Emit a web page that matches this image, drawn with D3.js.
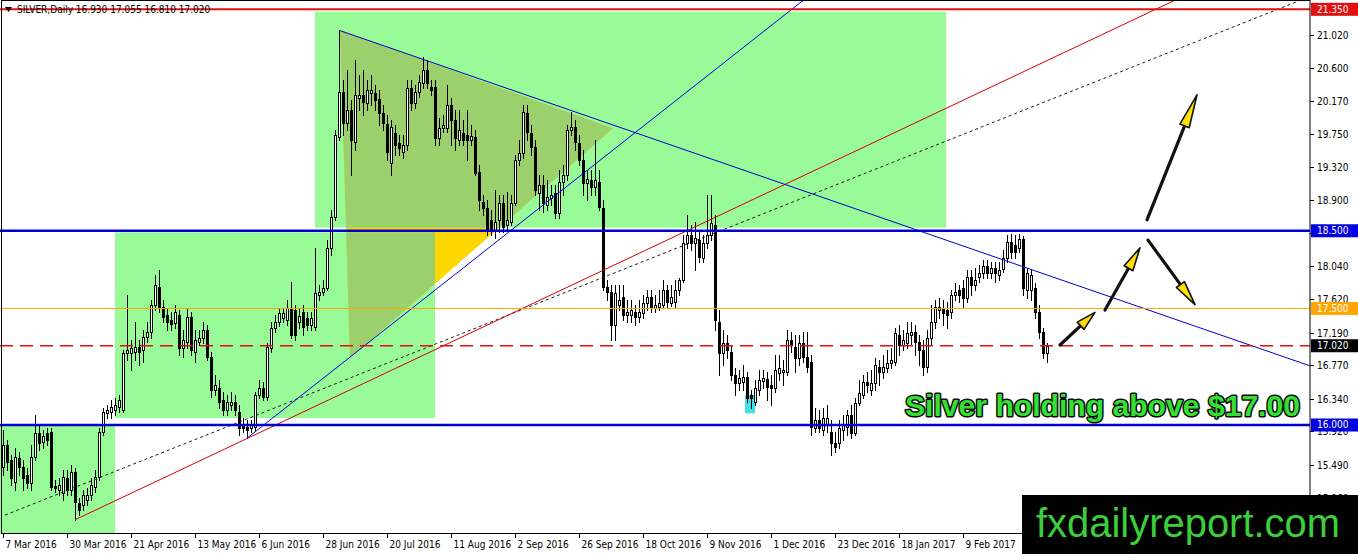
<!DOCTYPE html>
<html><head><meta charset="utf-8">
<script src="https://cdn.jsdelivr.net/npm/d3@7/dist/d3.min.js"></script>
<style>html,body{margin:0;padding:0;background:#fff;overflow:hidden}</style>
</head><body>
<svg id="chart" width="1358" height="554"></svg>
<script>
// ---------------- DATA ----------------
const symbolTitle = "SILVER,Daily";
const lastOHLC = ["16.930", "17.055", "16.810", "17.020"];

const opens = [15.46,15.74,15.55,15.27,15.58,15.46,15.36,15.25,15.59,15.90,
15.78,15.90,15.91,15.22,15.16,15.12,15.32,15.16,15.40,15.00,
14.97,15.04,15.10,15.20,15.33,15.91,16.15,16.17,16.19,16.23,
16.19,16.93,16.93,16.94,17.00,16.97,17.13,17.20,17.55,17.78,
17.52,17.42,17.35,17.31,17.42,16.99,17.07,17.39,16.94,17.07,
17.12,17.22,16.88,16.45,16.48,16.32,16.19,16.26,16.30,16.17,
16.00,15.97,15.96,15.97,16.39,16.48,16.36,16.99,17.25,17.33,
17.38,17.35,17.51,17.48,17.33,17.45,17.38,17.29,17.26,17.67,
17.71,17.76,18.28,18.68,19.71,20.29,19.89,20.05,19.64,20.21,
20.25,20.14,20.27,20.27,20.20,20.02,19.87,19.37,19.76,19.63,
19.51,19.60,20.34,20.14,20.29,20.40,20.57,20.35,20.35,19.69,
19.82,19.82,20.12,19.93,19.67,19.76,19.73,19.67,19.71,19.26,
18.87,18.79,18.64,18.51,18.64,18.86,18.57,18.61,18.86,19.41,
19.50,20.02,19.76,19.58,18.99,19.09,18.83,18.92,18.99,18.73,
19.13,19.22,19.80,19.84,19.63,19.41,19.12,19.15,19.06,19.13,
18.79,17.78,17.71,17.29,17.55,17.65,17.42,17.42,17.45,17.39,
17.44,17.57,17.65,17.51,17.52,17.55,17.74,17.57,17.58,17.74,
17.87,18.34,18.45,18.34,18.38,18.15,18.34,18.45,18.57,17.33,
16.93,17.06,16.94,16.64,16.54,16.55,16.62,16.39,16.30,16.45,
16.57,16.59,16.52,16.48,16.67,16.68,16.68,17.09,17.00,16.86,
17.06,16.88,16.81,15.96,16.06,15.94,16.00,15.91,15.77,15.77,
15.94,15.97,16.13,15.90,16.28,16.39,16.55,16.45,16.54,16.75,
16.68,16.73,16.80,16.81,17.16,17.03,17.06,17.16,17.20,17.07,
16.97,16.75,17.12,17.33,17.48,17.51,17.48,17.45,17.67,17.74,
17.76,17.63,17.91,17.80,17.91,17.96,18.05,17.96,18.02,17.93,
18.01,18.15,18.36,18.32,18.28,18.39,17.74,17.74,17.76,17.45,
17.20,16.93];

const highs = [15.94,15.81,15.61,15.70,15.65,15.55,15.45,15.74,16.13,16.00,
15.94,15.96,15.96,15.29,15.32,15.42,15.42,15.49,15.45,15.06,
15.16,15.19,15.32,15.42,15.96,16.22,16.26,16.32,16.35,16.39,
16.97,17.67,17.09,17.33,17.09,17.22,17.33,17.61,17.93,18.00,
17.61,17.51,17.45,17.55,17.48,17.22,17.51,17.45,17.22,17.22,
17.33,17.29,16.94,16.64,16.58,16.43,16.39,16.43,16.39,16.26,
16.09,16.06,16.06,16.43,16.58,16.55,17.06,17.33,17.42,17.51,
17.51,17.61,17.84,17.55,17.51,17.55,17.45,17.45,18.28,17.80,
17.87,18.38,18.77,19.80,21.08,20.44,20.57,20.18,20.70,20.50,
20.57,20.44,20.50,20.38,20.31,20.12,19.99,19.93,19.86,19.73,
19.73,20.44,20.44,20.38,20.50,20.74,20.70,20.44,20.44,19.95,
19.99,20.38,20.21,20.05,20.05,19.93,20.05,19.86,19.80,19.35,
18.96,18.90,18.77,19.02,18.96,18.96,19.00,18.96,19.48,19.67,
20.12,20.12,19.86,19.67,19.22,19.22,19.15,19.09,19.09,19.28,
19.35,19.86,20.03,19.93,19.73,19.54,19.28,19.28,19.67,19.28,
18.90,17.87,17.80,17.80,17.80,17.80,17.61,17.61,17.55,17.61,
17.67,17.74,17.74,17.67,17.74,17.87,17.80,17.80,17.87,17.89,
18.45,18.70,18.57,18.61,18.51,18.45,18.96,18.96,18.70,17.48,
17.22,17.16,17.03,16.73,16.71,16.77,16.68,16.45,16.58,16.71,
16.71,16.68,16.64,16.90,16.90,16.84,17.22,17.20,17.16,17.16,
17.20,17.20,16.90,16.22,16.19,16.22,16.26,16.06,15.91,16.06,
16.13,16.19,16.26,16.35,16.58,16.64,16.68,16.71,16.86,16.84,
16.90,16.97,16.99,17.25,17.29,17.22,17.33,17.33,17.29,17.16,
17.09,17.22,17.55,17.61,17.63,17.61,17.58,17.74,17.83,17.80,
17.87,18.00,18.00,18.02,18.06,18.12,18.12,18.10,18.10,18.10,
18.25,18.45,18.46,18.45,18.46,18.43,18.02,18.00,17.83,17.55,
17.25,17.055];

const lows = [15.36,15.42,15.23,15.16,15.36,15.16,15.19,15.16,15.55,15.68,
15.70,15.74,15.16,15.14,15.10,15.04,15.10,15.10,14.78,14.84,
14.91,14.97,15.04,15.14,15.29,15.87,16.09,16.09,16.13,16.17,
16.17,16.84,16.71,16.84,16.77,16.81,17.07,17.12,17.48,17.45,
17.33,17.22,17.22,17.25,16.90,16.88,16.99,16.90,16.81,17.03,
17.06,16.84,16.36,16.39,16.22,16.13,16.13,16.19,16.13,15.87,
15.91,15.83,15.91,15.94,16.35,16.32,16.32,16.94,17.20,17.27,
17.33,17.29,17.12,17.09,17.25,17.16,17.22,17.22,17.22,17.61,
17.67,17.74,18.19,18.64,19.67,19.73,19.80,19.22,19.54,20.05,
19.99,20.05,20.12,20.05,19.86,19.80,19.41,19.22,19.48,19.48,
19.44,19.54,20.05,20.08,20.22,20.34,20.34,20.25,19.60,19.60,
19.77,19.77,19.60,19.54,19.60,19.60,19.41,19.60,19.22,18.77,
18.70,18.45,18.45,18.41,18.48,18.48,18.51,18.57,18.83,19.35,
19.44,19.67,19.48,18.96,18.77,18.74,18.77,18.83,18.66,18.66,
18.96,19.15,19.73,19.54,19.35,18.96,18.90,18.96,18.96,18.77,
17.74,17.61,17.09,17.09,17.48,17.35,17.33,17.33,17.29,17.33,
17.38,17.48,17.45,17.45,17.48,17.51,17.51,17.53,17.52,17.67,
17.84,18.28,18.25,18.00,18.10,18.10,18.28,18.38,17.22,16.64,
16.77,16.86,16.58,16.39,16.45,16.45,16.30,16.22,16.26,16.39,
16.48,16.32,16.26,16.43,16.58,16.52,16.64,16.94,16.68,16.77,
16.81,16.68,15.87,15.91,15.91,15.87,15.91,15.61,15.65,15.70,
15.81,15.87,15.83,15.87,16.26,16.35,16.43,16.39,16.45,16.52,
16.61,16.68,16.73,16.77,16.90,16.97,16.99,17.03,16.90,16.77,
16.64,16.68,17.03,17.25,17.38,17.29,17.25,17.38,17.61,17.58,
17.52,17.58,17.67,17.74,17.84,17.89,17.89,17.89,17.84,17.87,
17.97,18.10,18.15,18.15,18.23,17.67,17.63,17.61,17.38,17.12,
16.86,16.81];

const closes = [15.74,15.52,15.32,15.59,15.46,15.32,15.25,15.59,15.90,15.77,
15.86,15.81,15.20,15.19,15.23,15.33,15.16,15.40,15.01,14.91,
15.10,15.10,15.23,15.33,15.91,16.17,16.19,16.23,16.26,16.32,
16.93,16.97,16.99,17.00,16.94,17.13,17.20,17.55,17.80,17.52,
17.39,17.33,17.30,17.45,16.99,17.09,17.39,16.97,17.09,17.12,
17.22,16.88,16.45,16.52,16.30,16.19,16.30,16.30,16.19,15.96,
15.96,15.94,16.00,16.39,16.48,16.36,17.00,17.25,17.33,17.44,
17.44,17.51,17.16,17.16,17.40,17.26,17.29,17.38,17.70,17.71,
17.76,18.28,18.68,19.73,20.29,19.89,20.05,19.67,20.25,20.25,
20.16,20.31,20.31,20.18,20.02,19.89,19.51,19.84,19.60,19.57,
19.60,20.34,20.14,20.29,20.41,20.57,20.40,20.31,19.69,19.82,
19.86,20.12,19.93,19.69,19.80,19.67,19.67,19.72,19.24,18.90,
18.79,18.51,18.51,18.61,18.86,18.55,18.64,18.86,19.41,19.50,
20.03,19.77,19.58,19.02,19.09,18.86,18.94,18.96,18.73,19.13,
19.22,19.80,19.84,19.64,19.41,19.12,19.17,19.06,19.15,18.81,
17.78,17.71,17.29,17.70,17.61,17.42,17.45,17.48,17.39,17.45,
17.57,17.65,17.52,17.55,17.57,17.74,17.58,17.65,17.74,17.87,
18.34,18.45,18.34,18.41,18.16,18.34,18.45,18.60,17.35,16.93,
17.06,16.97,16.64,16.54,16.61,16.62,16.35,16.35,16.48,16.58,
16.61,16.49,16.48,16.71,16.73,16.71,17.09,17.03,16.86,17.06,
16.88,16.75,15.97,16.06,15.96,16.09,16.09,15.77,15.72,15.96,
16.00,16.13,15.90,16.28,16.41,16.55,16.52,16.54,16.77,16.68,
16.75,16.80,16.84,17.18,17.03,17.09,17.18,17.20,17.07,16.97,
16.75,17.12,17.33,17.52,17.52,17.44,17.42,17.67,17.71,17.67,
17.63,17.91,17.80,17.87,17.96,18.05,17.96,18.02,17.96,18.00,
18.15,18.36,18.23,18.23,18.39,17.76,17.96,17.93,17.45,17.20,
16.93,17.02];

const xTickLabels = ["7 Mar 2016","30 Mar 2016","21 Apr 2016","13 May 2016","6 Jun 2016",
"28 Jun 2016","20 Jul 2016","11 Aug 2016","2 Sep 2016","26 Sep 2016","18 Oct 2016",
"9 Nov 2016","1 Dec 2016","23 Dec 2016","18 Jan 2017","9 Feb 2017"];
const barsPerXTick = 16;

const yTickValues = [21.020,20.600,20.170,19.750,19.320,18.900,18.470,18.040,
17.620,17.190,16.770,16.340,15.920,15.490,15.060];

// horizontal levels (price)
const resistanceTop = 21.350;
const levelHigh = 18.500;
const levelMid = 17.500;
const lastPrice = 17.020;
const levelLow = 16.000;

// zones [barFrom, barTo, priceTop, priceBottom]
const zones = [[-0.75, 28, 16.00, 14.50], [28, 108, 18.48, 16.09], [78, 235.75, 21.32, 18.54]];
const triangle = [[84.25, 21.08], [152.5, 19.82], [86.75, 16.86]];
const highlightBox = [185.5, 188, 16.39, 16.15];

// trend lines: [[bar, price],[bar, price]] (rays from first point)
const blueUpLine = [[61, 15.83], [174, 20.41]];
const blueDownLine = [[84, 21.08], [249.25, 18.14]];
const redUpLine = [[18, 14.78], [174.25, 18.58]];
const dottedLine = [[0.5, 14.84], [174, 18.39]];

// scenario arrows [[tailBar, tailPrice],[headBar, headPrice]]
const arrows = [
  [[264.25, 17.03], [273, 17.45]],
  [[275.5, 17.48], [284.25, 18.28]],
  [[286, 18.64], [298.5, 20.25]],
  [[286.25, 18.38], [298, 17.55]]
];

const headline = "Silver holding above $17.00";
const watermark = "fxdailyreport.com";

// ---------------- DRAW ----------------
const W = 1358, H = 554;
const plotR = 1310, plotB = 534;
const svg = d3.select("#chart");
const x = d3.scaleLinear().domain([0, 326.75]).range([3, plotR]);
const y = d3.scaleLinear().domain([14.597, 21.470]).range([plotB, 0]);

const defs = svg.append("defs");
defs.append("clipPath").attr("id", "plotClip").append("rect")
  .attr("x", 0).attr("y", 0).attr("width", plotR).attr("height", plotB);
const zoneClip = defs.append("clipPath").attr("id", "zoneClip");
zones.forEach(z => zoneClip.append("rect")
  .attr("x", x(z[0])).attr("y", y(z[2])).attr("width", x(z[1]) - x(z[0])).attr("height", y(z[3]) - y(z[2])));

svg.append("rect").attr("width", W).attr("height", H).attr("fill", "#fff");
const plot = svg.append("g").attr("clip-path", "url(#plotClip)");

// zones
plot.selectAll("rect.zone").data(zones).join("rect").attr("class", "zone")
  .attr("x", d => x(d[0])).attr("y", d => y(d[2]))
  .attr("width", d => x(d[1]) - x(d[0])).attr("height", d => y(d[3]) - y(d[2]))
  .attr("fill", "#98fb98");

const triPts = triangle.map(p => [x(p[0]), y(p[1])].join(",")).join(" ");
plot.append("polygon").attr("points", triPts).attr("fill", "#ffd700");
plot.append("g").attr("clip-path", "url(#zoneClip)")
  .append("polygon").attr("points", triPts).attr("fill", "#9cd06c");

plot.append("rect").attr("x", x(highlightBox[0])).attr("y", y(highlightBox[2]))
  .attr("width", x(highlightBox[1]) - x(highlightBox[0]))
  .attr("height", y(highlightBox[3]) - y(highlightBox[2])).attr("fill", "#3fe0e8");

// candles
const bars = d3.range(opens.length).map(i => ({i, o: opens[i], h: highs[i], l: lows[i], c: closes[i]}));
const cg = plot.append("g");
cg.selectAll("line.wick").data(bars).join("line").attr("class", "wick")
  .attr("x1", d => Math.round(x(d.i)) + 0.5).attr("x2", d => Math.round(x(d.i)) + 0.5)
  .attr("y1", d => Math.round(y(d.h))).attr("y2", d => Math.round(y(d.l)) + 1)
  .attr("stroke", "#000").attr("stroke-width", 1);
cg.selectAll("rect.body").data(bars).join("rect").attr("class", "body")
  .attr("x", d => Math.round(x(d.i)) - 0.5)
  .attr("y", d => Math.round(y(Math.max(d.o, d.c))) + 0.5)
  .attr("width", 2)
  .attr("height", d => Math.max(0, Math.round(y(Math.min(d.o, d.c))) - Math.round(y(Math.max(d.o, d.c)))))
  .attr("fill", d => d.c >= d.o ? "#fff" : "#000")
  .attr("stroke", "#000").attr("stroke-width", 1);

// trend lines as rays
function ray(seg, farBar) {
  const [p1, p2] = seg;
  const slope = (p2[1] - p1[1]) / (p2[0] - p1[0]);
  return [[x(p1[0]), y(p1[1])], [x(farBar), y(p1[1] + slope * (farBar - p1[0]))]];
}
function drawRay(seg, color, w, dash) {
  const r = ray(seg, 420);
  const ln = plot.append("line").attr("x1", r[0][0]).attr("y1", r[0][1]).attr("x2", r[1][0]).attr("y2", r[1][1])
    .attr("stroke", color).attr("stroke-width", w);
  if (dash) ln.attr("stroke-dasharray", dash);
}
drawRay(dottedLine, "#1a1a1a", 1, "3,3");
drawRay(redUpLine, "#d40000", 1);
drawRay(blueUpLine, "#0000e0", 1);
drawRay(blueDownLine, "#0000c8", 1);

// header text (drawn under the top resistance line)
svg.append("path").attr("d", "M5,7 L12,7 L8.5,12 Z").attr("fill", "#000");
svg.append("text").attr("x", 17).attr("y", 13).attr("font-family", "DejaVu Sans Condensed, DejaVu Sans, sans-serif")
  .attr("font-size", 10).attr("fill", "#000")
  .text(symbolTitle + "  " + lastOHLC.join(" "));

// horizontal levels
function hline(p, color, w, dash) {
  const l = plot.append("line").attr("x1", 0).attr("x2", plotR).attr("y1", y(p)).attr("y2", y(p))
    .attr("stroke", color).attr("stroke-width", w);
  if (dash) l.attr("stroke-dasharray", dash);
}
hline(resistanceTop, "#e01010", 2);
hline(levelHigh, "#0000d0", 2.5);
hline(levelMid, "#ffa500", 1);
hline(lastPrice, "#e01010", 1.3, "13,7");
hline(levelLow, "#0000d0", 2.5);

// frame and axes
svg.append("rect").attr("x", 1.5).attr("y", 0.5).attr("width", plotR - 1.5).attr("height", plotB - 1)
  .attr("fill", "none").attr("stroke", "#000").attr("stroke-width", 1);

const axisFont = "DejaVu Sans Condensed, DejaVu Sans, sans-serif";
const yt = svg.append("g");
yTickValues.forEach(v => {
  const yy = Math.round(y(v)) + 0.5;
  yt.append("line").attr("x1", plotR).attr("x2", plotR + 4).attr("y1", yy).attr("y2", yy).attr("stroke", "#000");
  yt.append("text").attr("x", plotR + 7).attr("y", yy + 3.5).attr("font-family", axisFont)
    .attr("font-size", 10).attr("fill", "#000").text(v.toFixed(3));
});

const xt = svg.append("g");
xTickLabels.forEach((lab, k) => {
  const xx = Math.round(x(k * barsPerXTick)) + 0.5;
  xt.append("line").attr("x1", xx).attr("x2", xx).attr("y1", plotB).attr("y2", plotB + 4).attr("stroke", "#000");
  xt.append("text").attr("x", xx + 2).attr("y", plotB + 14).attr("font-family", axisFont)
    .attr("font-size", 10).attr("fill", "#000").text(lab);
});

// price tags on the axis
function tag(p, bg) {
  const yy = y(p);
  svg.append("rect").attr("x", plotR + 1).attr("y", yy - 6.5).attr("width", W - plotR - 1).attr("height", 13).attr("fill", bg);
  svg.append("text").attr("x", plotR + 7).attr("y", yy + 3.5).attr("font-family", axisFont)
    .attr("font-size", 10).attr("fill", "#fff").text(p.toFixed(3));
}
tag(resistanceTop, "#e01010");
tag(levelHigh, "#0000e0");
tag(levelMid, "#ffa500");
tag(lastPrice, "#000");
tag(levelLow, "#0000e0");

// arrows
const ag = svg.append("g");
arrows.forEach(a => {
  const x1 = x(a[0][0]), y1 = y(a[0][1]), x2 = x(a[1][0]), y2 = y(a[1][1]);
  const dx = x2 - x1, dy = y2 - y1, len = Math.hypot(dx, dy);
  const ux = dx / len, uy = dy / len, px = -uy, py = ux;
  const hl = Math.min(34, 12 + 0.16 * len), hw = 5;
  const bx = x2 - ux * hl, by = y2 - uy * hl;
  ag.append("line").attr("x1", x1).attr("y1", y1).attr("x2", bx + ux * 2).attr("y2", by + uy * 2)
    .attr("stroke", "#111").attr("stroke-width", 3.2).attr("stroke-linecap", "round");
  ag.append("polygon")
    .attr("points", [[x2, y2], [bx + px * hw, by + py * hw], [bx - px * hw, by - py * hw]].map(p => p.join(",")).join(" "))
    .attr("fill", "#ffe000").attr("stroke", "#111").attr("stroke-width", 1.6).attr("stroke-linejoin", "round");
});

// headline
svg.append("text").attr("x", 905).attr("y", 416)
  .attr("font-family", "Liberation Sans, Arial, sans-serif").attr("font-weight", "bold")
  .attr("font-size", 30).attr("textLength", 395).attr("lengthAdjust", "spacingAndGlyphs")
  .attr("fill", "#35e035").attr("stroke", "#0c0c0c").attr("stroke-width", 3)
  .attr("paint-order", "stroke").attr("stroke-linejoin", "round")
  .text(headline);

// watermark
svg.append("rect").attr("x", 1022).attr("y", 495).attr("width", W - 1022).attr("height", H - 495).attr("fill", "#000");
svg.append("text").attr("x", 1036).attr("y", 537)
  .attr("font-family", "Liberation Sans, Arial, sans-serif").attr("font-size", 40)
  .attr("textLength", 304).attr("lengthAdjust", "spacingAndGlyphs")
  .attr("fill", "#3ccf3c").text(watermark);
</script>
</body></html>
